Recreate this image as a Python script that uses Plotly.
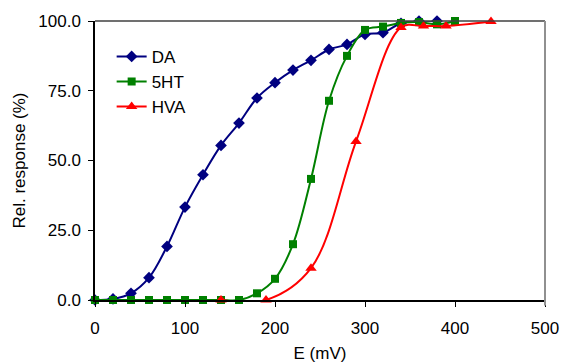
import plotly.graph_objects as go

# Data
x_da = [0, 20, 40, 60, 80, 100, 120, 140, 160, 180, 200, 220, 240, 260, 280, 300, 320, 340, 360, 380]
y_da = [0, 0.4, 2.4, 8.0, 19.2, 33.3, 44.9, 55.4, 63.4, 72.4, 77.9, 82.4, 85.9, 89.8, 91.6, 95.2, 95.8, 99.2, 100.0, 100.0]

x_5ht = [0, 20, 40, 60, 80, 100, 120, 140, 160, 180, 200, 220, 240, 260, 280, 300, 320, 340, 360, 380, 400]
y_5ht = [0, 0, 0, 0, 0, 0, 0, 0, 0, 2.4, 7.6, 20.0, 43.4, 71.4, 87.5, 96.8, 98.0, 99.3, 99.6, 98.8, 100.0]

x_hva = [140, 190, 240, 290, 340, 365, 390, 440]
y_hva = [0, 0, 11.4, 56.8, 97.7, 98.2, 98.2, 99.8]

series_names = ["DA", "5HT", "HVA"]
x_ticks = [0, 100, 200, 300, 400, 500]
y_ticks = [0, 25, 50, 75, 100]

FONT = "Liberation Sans, Arial, sans-serif"

fig = go.Figure()
fig.add_trace(go.Scatter(
    x=x_da, y=y_da, name=series_names[0], mode="lines+markers",
    line=dict(color="#000080", width=2, shape="spline"),
    marker=dict(symbol="diamond", size=9, color="#000080"),
    cliponaxis=False, legendgroup="a"))
fig.add_trace(go.Scatter(
    x=x_5ht, y=y_5ht, name=series_names[1], mode="lines+markers",
    line=dict(color="#008000", width=2, shape="spline"),
    marker=dict(symbol="square", size=8, color="#008000"),
    cliponaxis=False, legendgroup="b"))
fig.add_trace(go.Scatter(
    x=x_hva, y=y_hva, name=series_names[2], mode="lines+markers",
    line=dict(color="#FF0000", width=2, shape="spline"),
    marker=dict(symbol="triangle-up", size=10, color="#FF0000"),
    cliponaxis=False, legendgroup="c"))

fig.update_layout(
    width=563, height=363,
    margin=dict(l=95, r=18, t=21, b=63, autoexpand=False),
    paper_bgcolor="white", plot_bgcolor="white",
    font=dict(family=FONT, size=17, color="black"),
    showlegend=True,
    legend=dict(x=0.037, y=0.936, xanchor="left", yanchor="top",
                font=dict(family=FONT, size=17, color="black"),
                bgcolor="rgba(0,0,0,0)", tracegroupgap=0),
    xaxis=dict(range=[0, 500], tickvals=x_ticks, showgrid=False, zeroline=False,
               automargin=False,
               showline=True, linecolor="black", linewidth=1.5,
               ticks="outside", ticklen=5, tickcolor="black",
               ticklabelstandoff=7,
               title=dict(text="E (mV)", font=dict(family=FONT, size=17), standoff=23)),
    yaxis=dict(range=[0, 100], tickvals=y_ticks, tickformat=".1f", showgrid=False, zeroline=False,
               automargin=False,
               showline=True, linecolor="black", linewidth=1.5,
               ticks="outside", ticklen=5, tickcolor="black",
               ticklabelstandoff=4,
               title=dict(text="Rel. response (%)", font=dict(family=FONT, size=17), standoff=8)),
    shapes=[
        dict(type="line", xref="paper", yref="paper", x0=0, x1=1, y0=1, y1=1,
             line=dict(color="#404040", width=1.5)),
        dict(type="line", xref="paper", yref="paper", x0=1, x1=1, y0=-0.02, y1=1,
             line=dict(color="#909090", width=2)),
    ],
)

fig.write_html("out.html", config={"displayModeBar": False},
               post_script="document.body.style.margin='0px';")
